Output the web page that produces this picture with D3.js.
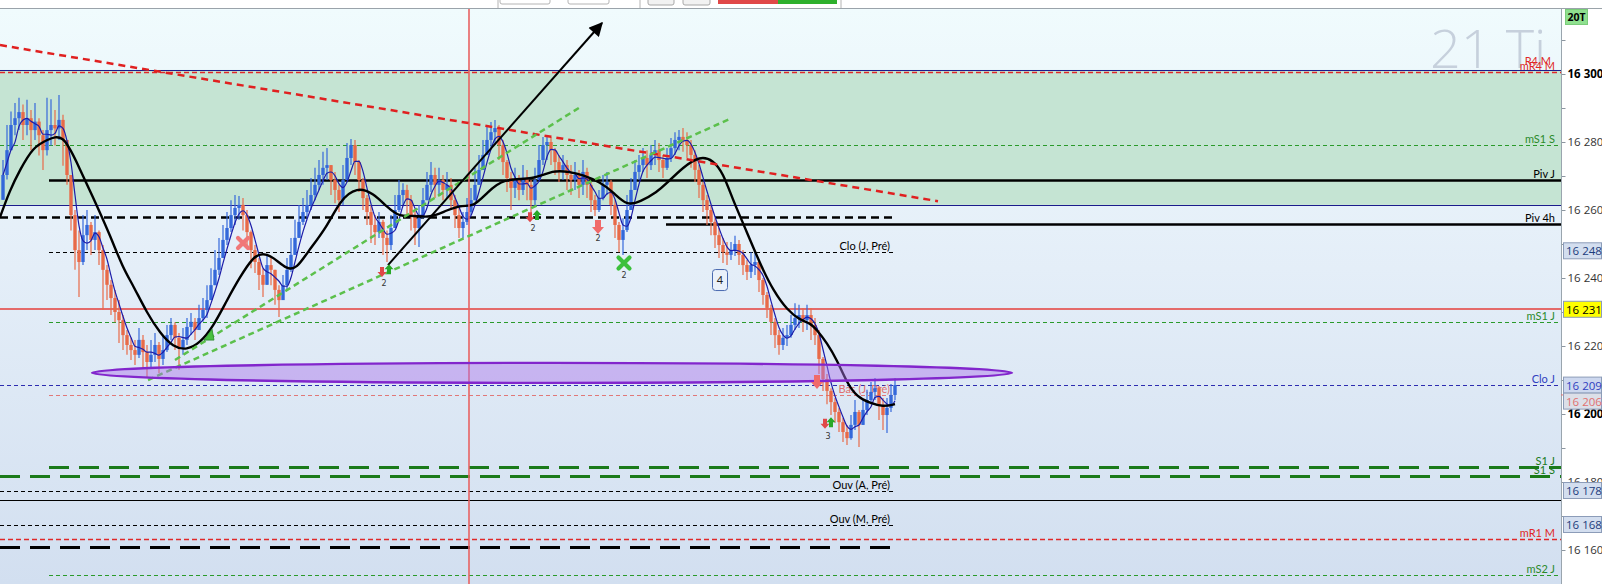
<!DOCTYPE html>
<html><head><meta charset="utf-8">
<script src="https://cdn.jsdelivr.net/npm/d3@7"></script>
<style>body{margin:0;background:#fff;overflow:hidden}svg{display:block}</style>
</head><body><svg id="c" width="1602" height="584"></svg>
<script>
// ---------- DATA ----------
const firstOpen = 16263;
const closes = [16270.3,16277.6,16285,16287,16288.8,16285,16287,16283.5,16286,16282,16277.6,16283.5,16285,16284,16286.5,16280.6,16270.3,16258.5,16248.2,16244.7,
16252.6,16255.6,16251.2,16253.5,16248.2,16242.4,16238,16234.1,16230,16227.6,16223.2,16220.3,16218.8,16217.4,16221.8,16218.2,16215.3,16217.4,16220.3,16216.2,
16218.8,16223.2,16226.2,16222.4,16219.4,16221.8,16225.6,16227.1,16224.7,16228.2,16230.6,16233.5,16237.9,16242.4,16245.9,16251.2,16254.7,16258.5,16260.6,16261.5,
16258.5,16253.5,16248.2,16244.7,16240.9,16238,16243.8,16242.4,16236.5,16233.5,16237.9,16242.4,16246.8,16251.8,16256.5,16259.4,16261.5,16264.4,16267.4,16270.3,
16272.4,16273.2,16268.8,16265.9,16262.9,16268.8,16275.3,16279.1,16274.1,16268.8,16263.5,16259.4,16255.6,16253.5,16256.5,16251.8,16249.7,16254.7,16260,16264.4,
16265.9,16262.9,16258.5,16254.7,16257.6,16262.9,16267.4,16270.3,16267.4,16268.8,16265.9,16267.4,16262.9,16258.5,16254.7,16256.5,16259.4,16262.9,16267.4,16271.8,
16276.2,16280.6,16282.9,16284.1,16279.1,16274.1,16269.4,16266.5,16268.8,16265.9,16269.4,16267.4,16262.9,16268.8,16274.7,16279.1,16280,16277.6,16274.1,16271.8,
16273.2,16270.3,16268.8,16270.3,16267.4,16271.2,16267.4,16262.9,16260,16263.5,16267.4,16268.2,16261.5,16255.6,16251.2,16254.1,16260,16265.9,16271.2,16273.2,
16275.3,16273.2,16276.2,16277.6,16274.7,16272.4,16275.3,16278.2,16280.6,16281.5,16280.6,16279.1,16276.2,16271.8,16267.4,16262.9,16260,16256.5,16252.6,16249.7,
16247.6,16246.8,16248.2,16250,16246.8,16243.8,16241.8,16243.8,16244.7,16239.4,16235,16231.2,16227.1,16223.2,16220.3,16222.4,16223.2,16226.2,16228.2,16229.1,
16227.6,16229.1,16226.2,16223.2,16216.2,16210.3,16206.8,16203.5,16200.6,16197.6,16194.7,16192.9,16196.8,16200.6,16196.8,16201.2,16204.1,16206.5,16207.6,16202.6,
16199.7,16201.8,16205.6,16208.5];
const highs = [16274.7,16285,16289,16291.5,16293,16291,16292.4,16289.4,16291.5,16287,16283.5,16293,16292.6,16289.4,16293.8,16288,16280.6,16270.3,16260,16254,
16258.5,16260,16256.5,16258.5,16254,16249.7,16243.8,16239.4,16236.5,16233.5,16229.1,16224.7,16222.4,16221.8,16225.3,16223.2,16220.3,16221.8,16223.8,16221.2,
16223.2,16226.2,16228.2,16227,16223.8,16225.3,16228.2,16229.7,16228.2,16232.1,16234.1,16237.9,16242.9,16248.2,16251.8,16255.6,16259.4,16262.9,16264.4,16264.1,
16263.5,16260,16254,16249.7,16245.9,16242.9,16246.8,16245.9,16242.4,16237.9,16240.9,16245.9,16251.8,16257.1,16261.5,16263.5,16265.9,16269.4,16272.4,16274.7,
16277.1,16278.2,16273.2,16271.2,16267.4,16273.2,16279.7,16280.9,16280.6,16274.7,16269.4,16264.4,16261.5,16258.5,16259.4,16257.1,16254,16258.5,16264.4,16268.8,
16267.9,16267.4,16264.4,16260,16261.5,16266.5,16271.2,16274.1,16272.4,16272.4,16270.3,16271.2,16269.4,16264.4,16260.6,16259.4,16263.5,16266.5,16272.4,16276.2,
16280.6,16284.4,16285.9,16286.5,16285,16280.6,16274.7,16271.2,16272.4,16270.3,16273.2,16271.8,16268.8,16272.4,16279.1,16281.5,16282,16281.5,16278.2,16276.2,
16276.2,16274.7,16273.2,16274.1,16271.8,16274.7,16272.4,16268.2,16264.4,16265.9,16270.3,16271.2,16268.8,16262.9,16256.5,16257.6,16264.4,16269.4,16274.7,16276.2,
16278.2,16277.6,16279.1,16280.6,16279.7,16276.2,16278.2,16281.2,16282.9,16283.5,16284.1,16282.9,16280.6,16277.6,16273.2,16268.2,16264.4,16261.5,16257.6,16254.7,
16251.8,16250.6,16250.6,16252.4,16251.2,16248.2,16245.3,16247.6,16247.6,16244.7,16240,16235.9,16232.1,16228.2,16224.7,16225.3,16226.2,16229.1,16232.6,16232.1,
16231.2,16232.1,16231.2,16228.2,16224.7,16216.8,16211.8,16207.6,16204.7,16201.8,16198.8,16196.8,16199.7,16204.1,16201.2,16204.1,16207.1,16209.4,16210.6,16208.2,
16204.7,16204.7,16208.8,16210.6];
const lows = [16263,16269,16277.6,16282,16283.5,16280.6,16282,16277.6,16280.6,16276,16271.8,16276,16279,16279,16280.6,16273,16267.4,16254,16242.4,16234.4,
16243.8,16248.2,16246.8,16248.2,16243.8,16230.6,16233.5,16229.1,16227,16220.9,16218.8,16217.4,16215.9,16214.4,16216.5,16213.5,16210.9,16213.5,16215.3,16212,
16214.4,16218.2,16221.8,16218.8,16213,16217.4,16220.3,16223.2,16221.8,16224.7,16227.1,16228.2,16233.5,16237.9,16240.9,16245.9,16249.7,16253.5,16255.6,16257.1,
16254,16249.7,16242.9,16241.5,16236.5,16234.4,16239.4,16237.9,16232.1,16228.5,16234.1,16236.5,16241.8,16246.8,16251.8,16255.6,16257.6,16260,16262.9,16265.9,
16267.4,16268.8,16264.4,16262,16259.4,16261.5,16268.8,16273.2,16270.3,16265.3,16260,16255.6,16250.3,16249.7,16251.8,16246.8,16244.7,16248.2,16254.7,16259.4,
16261.5,16258.5,16254,16249.7,16249.1,16258.5,16262.9,16265.3,16263.5,16264.4,16262.9,16263.5,16260,16254.7,16251.8,16251.8,16255.6,16258.5,16262.9,16267.4,
16271.8,16276.2,16278.2,16279.1,16274.7,16270.3,16265.3,16260,16263.5,16262.9,16264.4,16262.9,16259.1,16261.5,16268.8,16273.2,16274.7,16273.2,16270.3,16268.2,
16268.8,16265.9,16264.4,16265.9,16263.5,16264.4,16263.5,16259.4,16258.2,16259.4,16262.9,16264.4,16258.5,16251.8,16247.6,16246.8,16253.5,16260,16265.9,16268.8,
16271.2,16269.4,16271.8,16273.2,16271.2,16269.4,16271.8,16274.1,16276.2,16277.6,16277.1,16275.3,16272.4,16268.2,16263.5,16259.4,16255.6,16252.6,16248.8,16245.9,
16244.4,16243.8,16245.3,16246.5,16243.8,16240.9,16239.4,16240,16240.9,16235.9,16232.1,16228.2,16223.2,16219.4,16217.4,16218.8,16220,16222.4,16224.7,16225.3,
16224.1,16224.7,16221.8,16220.3,16211.8,16206.8,16202.9,16199.7,16197.4,16194.7,16191.8,16190.9,16192.4,16195.3,16190.3,16196.8,16199.7,16202.9,16204.1,16198.2,
16195.3,16194.4,16200.6,16204.1];

// slow moving average (black): bar index / value
const slowMaIdx = [-0.75,1.75,4.25,7.5,11,15,18.5,22.5,26.75,30,32.5,36,39.25,42.5,46,49.25,52.5,56,59.25,62.5,65,67.5,71,73.5,76,81,84.25,88.5,92.5,96,99.25,102.5,106.75,111,115,117.5,121,125,132.5,137.5,141.75,145,149.25,152.5,156,159.25,163.5,166,170,174.25,177.5,180,182.5,185,187.5,190,192.5,196,199.25,201.75,203.5,206,208.5,211,213.5,216.75,220,223];
const slowMaVal = [16257.9,16265.9,16271.8,16278.5,16280.6,16282.6,16273.8,16263.8,16252.6,16242.9,16237.9,16229.7,16223.8,16219.7,16218.8,16220.9,16225.6,16233.5,16240.3,16246.2,16247.4,16246.2,16242.4,16242.9,16247.4,16255,16262.9,16266.8,16265,16260.9,16257.9,16258.5,16257.6,16260,16261.5,16260.9,16265,16269.4,16268.8,16271.8,16271.2,16270.3,16268.2,16265.3,16261.2,16262.4,16265.3,16267.9,16272.6,16275.9,16274.7,16270.9,16262.9,16256.2,16249.1,16242.4,16236.5,16230.6,16227.6,16226.8,16224.7,16220.9,16215.9,16209.1,16205,16203.2,16202.1,16202.9];

// horizontal levels
const levelLabels = ["", "mR4 M", "mS1 S", "Piv J", "", "", "Piv 4h", "Clo (J, Pré)", "", "mS1 J", "Clo J", "Bas (J, Pré)", "S1 J", "S1 S", "Ouv (A, Pré)", "", "Ouv (M, Pré)", "mR1 M", "", "mS2 J"];
const levelValues = [16301.2, 16300.6, 16279.1, 16268.8, 16261.5, 16257.9, 16256.0, 16247.6, 16230.8, 16227.2, 16208.5, 16205.6, 16184.4, 16181.9, 16177.5, 16174.6, 16167.5, 16163.2, 16160.9, 16152.6];
const levelFrom = [null, null, null, 11.5, null, null, 165.75, 11.5, null, 11.5, null, 11.5, 11.5, null, null, null, null, null, null, 11.5];
const levelTo = [null, null, null, null, null, 222.75, null, 222.75, null, null, null, 222.75, null, null, 222.75, null, 222.75, null, 222.75, null];
const levelKinds = ["navy","redDash","greenDash","blackThick","navy","blackThickDash","blackThick","blackDash","redSolid","greenDash","blueDash","pinkDash","greenBigDash","greenBigDash","blackDash","blackThin","blackDash","redDash","blackBigDash","greenDash"];

const bandTop = 16301.2, bandBottom = 16261.5;
const verticalIdx = 116.5;

// trend lines
const trendFromIdx = [-0.75, 43, 36.25, 96.25];
const trendFromVal = [16308.5, 16215.9, 16210, 16243.8];
const trendToIdx = [233.75, 144.75, 181.75, 149.75];
const trendToVal = [16262.6, 16290.6, 16286.8, 16315];
const trendKinds = ["redTrend", "greenTrend", "greenTrend", "arrow"];

// ellipse zone
const zoneIdx = 137.25, zoneVal = 16212.1, zoneHalfBars = 115, zoneHalfPts = 2.95;

// markers
const markerKinds = ["xRed","triGreen","downRed","upGreen","num","downRed","upGreen","num","downRedBig","num","xGreen","num","box","downRedBig","downRed","upGreen","num"];
const markerIdx = [60,51.5,94.75,96.5,95.25,131.75,133.5,132.5,148.75,148.75,155.25,155.25,179.25,203.5,205.5,207,206.25];
const markerVal = [16250.3,16223.2,16241.8,16242.6,16238.5,16257.9,16258.5,16254.7,16255,16251.8,16244.4,16240.9,16239.4,16209.4,16197.1,16197.6,16193.5];
const markerText = ["","","","","2","","","2","","2","","2","4","","","","3"];

// axis
const tickValues = d3.range(16160, 16311, 10);
const boxValues = [16248, 16230.8, 16208.5, 16205.6, 16177.5, 16167.5];
const boxKinds = ["blue","yellow","clo","bas","blue","blue"];

// ---------- DRAW ----------
const W = 1602, H = 584, plotR = 1561, plotT = 9;
const svg = d3.select("#c");
const x = d3.scaleLinear().domain([0, 223]).range([3, 895]);
const y = d3.scaleLinear().domain([16150, 16300]).range([584, 74]);
const fmt = v => d3.format(",")(Math.round(v)).replace(/,/g, " ");

const defs = svg.append("defs");
const gr = defs.append("linearGradient").attr("id","bg").attr("x1",0).attr("y1",0).attr("x2",0).attr("y2",1);
gr.append("stop").attr("offset","0").attr("stop-color","#f0fbfd");
gr.append("stop").attr("offset","0.45").attr("stop-color","#e4eef8");
gr.append("stop").attr("offset","1").attr("stop-color","#d2dff0");
defs.append("clipPath").attr("id","clip").append("rect").attr("x",0).attr("y",plotT).attr("width",plotR).attr("height",H-plotT);
defs.append("marker").attr("id","ah").attr("viewBox","0 0 10 10").attr("refX",9).attr("refY",5)
  .attr("markerWidth",16).attr("markerHeight",14).attr("orient","auto").attr("markerUnits","userSpaceOnUse")
  .append("path").attr("d","M0,0 L10,5 L0,10 z").attr("fill","#000");

svg.append("rect").attr("width",W).attr("height",H).attr("fill","#fff");

// toolbar strip
const tb = svg.append("g");
tb.append("line").attr("x1",0).attr("x2",W).attr("y1",8.5).attr("y2",8.5).attr("stroke","#9aa3aa");
[[500,50],[568,41]].forEach(b=>tb.append("rect").attr("x",b[0]).attr("y",-6).attr("width",b[1]).attr("height",10).attr("rx",2).attr("fill","#fff").attr("stroke","#b4b4b4"));
[[648,26],[683,27]].forEach(b=>tb.append("rect").attr("x",b[0]).attr("y",-5).attr("width",b[1]).attr("height",10).attr("rx",2).attr("fill","#f2f2f2").attr("stroke","#a8a8a8"));
[498,640,841].forEach(v=>tb.append("line").attr("x1",v).attr("x2",v).attr("y1",0).attr("y2",8).attr("stroke","#b4b4b4"));
tb.append("rect").attr("x",718).attr("y",0).attr("width",60).attr("height",4).attr("fill","#e04848");
tb.append("rect").attr("x",778).attr("y",0).attr("width",59).attr("height",4).attr("fill","#2db02d");

const plot = svg.append("g").attr("clip-path","url(#clip)");
plot.append("rect").attr("x",0).attr("y",plotT).attr("width",plotR).attr("height",H-plotT).attr("fill","url(#bg)");
plot.append("rect").attr("x",0).attr("y",y(bandTop)).attr("width",plotR).attr("height",y(bandBottom)-y(bandTop)).attr("fill","#c5e4d3");

// watermark
plot.append("text").attr("x",1430).attr("y",68).attr("font-family","'Open Sans',sans-serif").attr("font-weight",300)
  .attr("font-size",54).attr("fill","#c6d0dc").text("21 Ti");

// levels
const levelStyle = {
  navy:{c:"#1c1c8c",w:1,d:null}, redDash:{c:"#e02828",w:1.3,d:"5,3"}, greenDash:{c:"#2a9a2a",w:1,d:"4,3"},
  blackThick:{c:"#000",w:2.5,d:null}, blackThickDash:{c:"#000",w:2.6,d:"8,5"}, blackDash:{c:"#000",w:1,d:"4,3"},
  redSolid:{c:"#e46a6a",w:2,d:null}, blueDash:{c:"#2c2cb0",w:1,d:"4,3"}, pinkDash:{c:"#e07878",w:1,d:"4,3"},
  greenBigDash:{c:"#1a7a1a",w:3,d:"20,10"}, blackThin:{c:"#000",w:1.2,d:null}, blackBigDash:{c:"#000",w:3,d:"20,10"}
};
const labelColor = {navy:"#000",redDash:"#e02828",greenDash:"#2a8a2a",blackThick:"#000",blackDash:"#000",blueDash:"#3040c0",pinkDash:"#e07070",greenBigDash:"#1a7a1a"};
levelValues.forEach((v,i)=>{
  const st = levelStyle[levelKinds[i]];
  const x1 = levelFrom[i]==null ? 0 : x(levelFrom[i]);
  const x2 = levelTo[i]==null ? plotR : x(levelTo[i]);
  const yy = Math.round(y(v)) + (st.w % 2 ? 0.5 : 0);
  plot.append("line").attr("x1",x1).attr("x2",x2).attr("y1",yy).attr("y2",yy)
    .attr("stroke",st.c).attr("stroke-width",st.w).attr("stroke-dasharray",st.d);
  if (levelLabels[i]) {
    const lx = levelTo[i]==null ? 1555 : x2 - 4;
    plot.append("text").attr("x",lx).attr("y",yy - 3).attr("text-anchor","end")
      .attr("font-family","Lato,'Open Sans',sans-serif").attr("font-size",11)
      .attr("fill",labelColor[levelKinds[i]]||"#000").text(levelLabels[i]);
  }
});
plot.append("text").attr("x",1551).attr("y",65).attr("text-anchor","end")
  .attr("font-family","Lato,'Open Sans',sans-serif").attr("font-size",11).attr("fill","#e02828").text("R4 M");

// candles
const bars = closes.map((c,i)=>({i, o: i ? closes[i-1] : firstOpen, c, h: highs[i], l: lows[i]}));
const up = "#3468da", dn = "#e86a48";
const cg = plot.append("g");
cg.selectAll("line").data(bars).join("line")
  .attr("x1",d=>x(d.i)).attr("x2",d=>x(d.i))
  .attr("y1",d=>y(Math.max(d.h,d.o,d.c))).attr("y2",d=>y(Math.min(d.l,d.o,d.c)))
  .attr("stroke",d=>d.c>=d.o?up:dn).attr("stroke-width",1.2);
cg.selectAll("rect").data(bars).join("rect")
  .attr("x",d=>x(d.i)-1.7).attr("width",3.4)
  .attr("y",d=>y(Math.max(d.o,d.c))).attr("height",d=>Math.max(1.5,Math.abs(y(d.o)-y(d.c))))
  .attr("fill",d=>d.c>=d.o?up:dn);

// fast MA (4-bar average of closes)
const fast = closes.map((c,i)=>{const s=closes.slice(Math.max(0,i-3),i+1);return {i,v:d3.mean(s)};});
plot.append("path").datum(fast).attr("fill","none").attr("stroke","#1c1ca8").attr("stroke-width",1.2)
  .attr("d",d3.line().x(d=>x(d.i)).y(d=>y(d.v)).curve(d3.curveMonotoneX));
// slow MA
plot.append("path").datum(slowMaIdx.map((k,j)=>({i:k,v:slowMaVal[j]}))).attr("fill","none").attr("stroke","#000").attr("stroke-width",2.4)
  .attr("d",d3.line().x(d=>x(d.i)).y(d=>y(d.v)).curve(d3.curveBasis));

// vertical red line
plot.append("line").attr("x1",x(verticalIdx)).attr("x2",x(verticalIdx)).attr("y1",plotT).attr("y2",H).attr("stroke","#e86262").attr("stroke-width",1.6);

// trend lines
const trendStyle = {redTrend:{c:"#e02020",w:2.5,d:"7,5"}, greenTrend:{c:"#5cc04c",w:2.5,d:"6,4"}, arrow:{c:"#000",w:2,d:null}};
trendKinds.forEach((k,i)=>{
  const st = trendStyle[k];
  const ln = plot.append("line").attr("x1",x(trendFromIdx[i])).attr("y1",y(trendFromVal[i]))
    .attr("x2",x(trendToIdx[i])).attr("y2",y(trendToVal[i]))
    .attr("stroke",st.c).attr("stroke-width",st.w).attr("stroke-dasharray",st.d);
  if (k==="arrow") ln.attr("marker-end","url(#ah)");
});

// ellipse
plot.append("ellipse").attr("cx",x(zoneIdx)).attr("cy",y(zoneVal))
  .attr("rx",x(zoneIdx+zoneHalfBars)-x(zoneIdx)).attr("ry",y(zoneVal-zoneHalfPts)-y(zoneVal))
  .attr("fill","rgba(170,115,235,0.45)").attr("stroke","#8226cc").attr("stroke-width",2.4);

// markers
const mg = plot.append("g");
function arrowPath(cx, cy, sw, sh, hw, hh, dir){
  const top = cy - dir*(sh+hh)/2;
  const p = [[cx-sw/2,top],[cx+sw/2,top],[cx+sw/2,top+dir*sh],[cx+hw/2,top+dir*sh],[cx,top+dir*(sh+hh)],[cx-hw/2,top+dir*sh],[cx-sw/2,top+dir*sh]];
  return "M"+p.map(q=>q.join(",")).join("L")+"Z";
}
markerKinds.forEach((k,i)=>{
  const cx = x(markerIdx[i]), cy = y(markerVal[i]);
  if (k==="downRed") mg.append("path").attr("d",arrowPath(cx,cy,4,5,9,5,1)).attr("fill","#e04848");
  else if (k==="upGreen") mg.append("path").attr("d",arrowPath(cx,cy,4,5,9,5,-1)).attr("fill","#28a828");
  else if (k==="downRedBig") mg.append("path").attr("d",arrowPath(cx,cy,6,7,12,7,1)).attr("fill","#f06a6a");
  else if (k==="xRed"||k==="xGreen") {
    const s = k==="xRed"?5:5.5, col = k==="xRed"?"#f07878":"#3cc03c";
    mg.append("path").attr("d",`M${cx-s},${cy-s}L${cx+s},${cy+s}M${cx+s},${cy-s}L${cx-s},${cy+s}`)
      .attr("stroke",col).attr("stroke-width",4.2).attr("stroke-linecap","round");
  }
  else if (k==="triGreen") mg.append("path").attr("d",`M${cx-5},${cy+5}L${cx+5},${cy+5}L${cx+3},${cy-6}Z`).attr("fill","#48c040").attr("stroke","#2a8a2a").attr("stroke-width",0.8);
  else if (k==="num") mg.append("text").attr("x",cx).attr("y",cy+3).attr("text-anchor","middle")
      .attr("font-family","'DejaVu Sans',sans-serif").attr("font-size",8).attr("fill","#333").text(markerText[i]);
  else if (k==="box") {
    mg.append("rect").attr("x",cx-7.5).attr("y",cy-10.5).attr("width",15).attr("height",21).attr("rx",3)
      .attr("fill","#eaf1fa").attr("stroke","#4a6ab0").attr("stroke-width",1);
    mg.append("text").attr("x",cx).attr("y",cy+4).attr("text-anchor","middle")
      .attr("font-family","Lato,'Open Sans',sans-serif").attr("font-size",11).attr("fill","#222").text(markerText[i]);
  }
});

// right axis
const ax = svg.append("g");
ax.append("rect").attr("x",plotR).attr("y",plotT).attr("width",W-plotR).attr("height",H-plotT).attr("fill","#fff");
const axis = d3.axisRight(y).tickValues(tickValues).tickSize(4).tickSizeOuter(0).tickPadding(2)
  .tickFormat(d=> d%20===0 ? fmt(d) : "");
const ag = ax.append("g").attr("transform",`translate(${plotR+0.5},0)`).call(axis);
ag.select(".domain").remove();
ag.selectAll(".tick line").attr("stroke","#8c96a0");
ag.selectAll(".tick text").attr("font-family","'Open Sans',sans-serif").attr("font-size",11.5)
  .attr("fill",d=> (d===16300||d===16200)?"#000":"#333").attr("font-weight",d=>(d===16300||d===16200)?700:400);
ax.append("line").attr("x1",plotR+0.5).attr("x2",plotR+0.5).attr("y1",plotT).attr("y2",H).attr("stroke","#9aa5ae");

const boxStyle = {blue:{f:"#d3deef",t:"#1c3c7c"}, yellow:{f:"#ffff00",t:"#000"}, clo:{f:"#cdd8ef",t:"#3040c0"}, bas:{f:"#dcdfe8",t:"#e07070"}};
let prevY = -100;
boxValues.forEach((v,i)=>{
  let cy = y(v);
  if (cy - prevY < 16) cy = prevY + 16;
  prevY = cy;
  const st = boxStyle[boxKinds[i]];
  if (boxKinds[i]==="bas") ax.append("line").attr("x1",plotR).attr("x2",plotR+5).attr("y1",y(v)).attr("y2",y(v)).attr("stroke","#e07070");
  ax.append("rect").attr("x",plotR+2.5).attr("y",cy-8).attr("width",38).attr("height",16)
    .attr("fill",st.f).attr("stroke","#8c9cb8").attr("stroke-width",1);
  ax.append("text").attr("x",plotR+5).attr("y",cy+4.5).attr("font-family","'Open Sans',sans-serif")
    .attr("font-size",11.5).attr("fill",st.t).text(fmt(v));
});
ax.append("rect").attr("x",1565.5).attr("y",9.5).attr("width",22).attr("height",15).attr("fill","#8fe08f").attr("stroke","#7acc7a");
ax.append("text").attr("x",1576.5).attr("y",21).attr("text-anchor","middle").attr("font-family","'Open Sans',sans-serif")
  .attr("font-weight",700).attr("font-size",10.5).attr("fill","#000").text("20T");
</script></body></html>
